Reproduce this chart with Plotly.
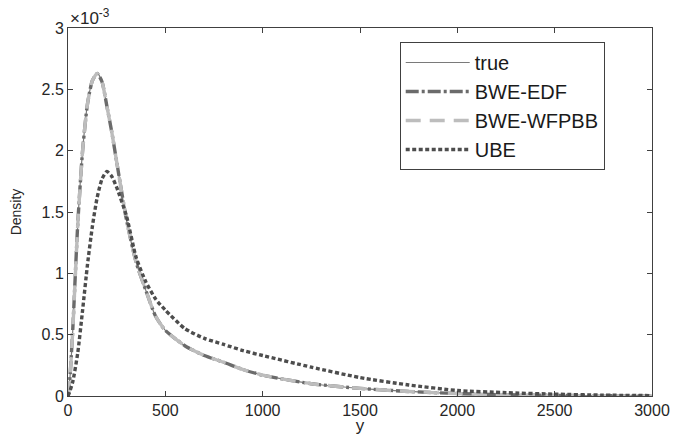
import numpy as np
import plotly.graph_objects as go

# x grid (y variable)
y_grid = [0, 10, 25, 50, 75, 100, 125, 150, 175, 200, 225, 250, 300, 350, 400, 450,
          500, 600, 700, 800, 900, 1000, 1250, 1500, 1750, 2000, 2250, 2500, 2750, 3000]

# densities in units of 1e-3
true_e3 = [0, 0.15, 0.55, 1.40, 2.00, 2.38, 2.57, 2.635, 2.56, 2.36, 2.15, 1.91, 1.44, 1.09, 0.86, 0.65,
           0.535, 0.41, 0.33, 0.275, 0.215, 0.17, 0.10, 0.062, 0.037, 0.020, 0.010, 0.005, 0.002, 0.001]
bwe_edf_e3 = [0, 0.15, 0.56, 1.40, 2.00, 2.38, 2.57, 2.63, 2.56, 2.36, 2.15, 1.91, 1.44, 1.09, 0.86, 0.65,
              0.535, 0.41, 0.33, 0.275, 0.215, 0.17, 0.10, 0.062, 0.037, 0.020, 0.010, 0.005, 0.002, 0.001]
bwe_wfpbb_e3 = [0, 0.15, 0.55, 1.39, 2.00, 2.38, 2.57, 2.63, 2.56, 2.36, 2.15, 1.91, 1.44, 1.09, 0.86, 0.65,
                0.535, 0.41, 0.33, 0.275, 0.215, 0.17, 0.10, 0.062, 0.037, 0.020, 0.010, 0.005, 0.002, 0.001]
ube_e3 = [0, 0.04, 0.12, 0.35, 0.70, 1.07, 1.38, 1.62, 1.77, 1.83, 1.79, 1.70, 1.47, 1.13, 0.93, 0.79,
          0.70, 0.55, 0.47, 0.42, 0.37, 0.33, 0.235, 0.15, 0.09, 0.045, 0.027, 0.015, 0.007, 0.003]

y_ticks = [0, 0.5, 1, 1.5, 2, 2.5, 3]
y_tick_labels = ["0", "0.5", "1", "1.5", "2", "2.5", "3"]
x_ticks = [0, 500, 1000, 1500, 2000, 2500, 3000]

scale = 1e-3
sm = 0.6
fig = go.Figure()
fig.add_trace(go.Scatter(x=y_grid, y=np.array(true_e3) * scale, name="true", mode="lines",
                         line=dict(color="#7a7a7a", width=1.2, shape="spline", smoothing=sm)))
fig.add_trace(go.Scatter(x=y_grid, y=np.array(bwe_edf_e3) * scale, name="BWE-EDF", mode="lines",
                         line=dict(color="#6b6b6b", width=3.4, dash="13px,3px,3px,3px",
                                   shape="spline", smoothing=sm)))
fig.add_trace(go.Scatter(x=y_grid, y=np.array(bwe_wfpbb_e3) * scale, name="BWE-WFPBB", mode="lines",
                         line=dict(color="#bdbdbd", width=3.4, dash="15px,9px",
                                   shape="spline", smoothing=sm)))
fig.add_trace(go.Scatter(x=y_grid, y=np.array(ube_e3) * scale, name="UBE", mode="lines",
                         line=dict(color="#4d4d4d", width=3.4, dash="4px,2.5px",
                                   shape="spline", smoothing=sm)))

axis_col = "#404040"
font_fam = "Liberation Sans, Arial, sans-serif"
fig.update_layout(
    width=675, height=435,
    margin=dict(l=68, r=23, t=28, b=39),
    paper_bgcolor="white", plot_bgcolor="white",
    font=dict(family=font_fam, color="#262626", size=16),
    showlegend=True,
    legend=dict(x=0.568, y=0.962, xanchor="left", yanchor="top",
                bgcolor="white", bordercolor="#404040", borderwidth=1,
                font=dict(size=20, color="#1a1a1a", family=font_fam),
                itemwidth=64, tracegroupgap=0),
    xaxis=dict(range=[0, 3000], tickvals=x_ticks, ticks="inside", ticklen=5, automargin=False,
               showline=True, linecolor=axis_col, linewidth=1, mirror="ticks",
               showgrid=False, zeroline=False, tickcolor=axis_col,
               title=dict(text="y", standoff=7, font=dict(size=17))),
    yaxis=dict(range=[0, 3e-3], tickvals=[v * scale for v in y_ticks], ticktext=y_tick_labels,
               ticks="inside", ticklen=5, automargin=False,
               showline=True, linecolor=axis_col, linewidth=1, mirror="ticks",
               showgrid=False, zeroline=False, tickcolor=axis_col,
               title=dict(text="Density", standoff=16, font=dict(size=14))),
    annotations=[dict(x=0, y=1, xref="paper", yref="paper", xanchor="left", yanchor="bottom",
                      text="\u00d710<sup>-3</sup>", showarrow=False, xshift=0, yshift=-2,
                      font=dict(size=17, color="#262626"))],
)

fig.write_html("out.html", config={"displayModeBar": False},
               post_script="document.body.style.margin='0';document.body.style.overflow='hidden';")
